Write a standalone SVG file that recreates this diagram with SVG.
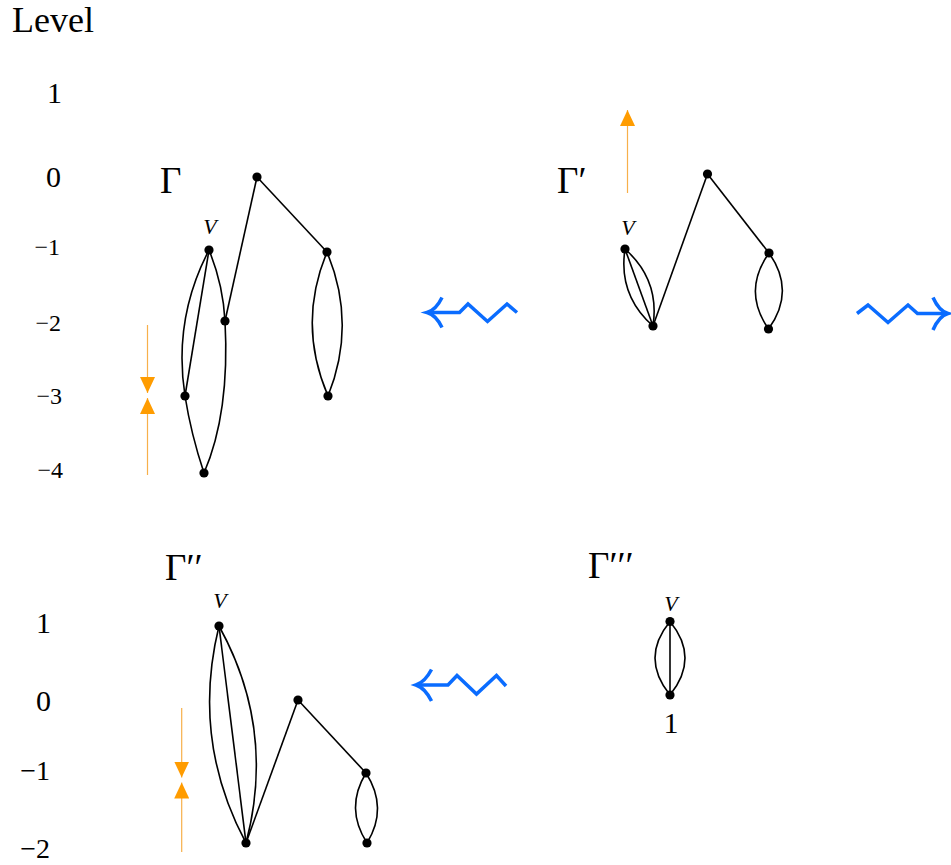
<svg xmlns="http://www.w3.org/2000/svg" width="951" height="865" viewBox="0 0 951 865">
<style>
text{font-family:"Liberation Serif","Times New Roman",serif;fill:#000}
.lvl{font-size:30px;text-anchor:end}
.lvs{font-size:24px;text-anchor:end}
.lvb{font-size:28px;text-anchor:end}
.gam{font-size:37px}
.vl{font-size:22px;font-style:italic;text-anchor:middle}
.e{fill:none;stroke:#000;stroke-width:1.6}
.dot{fill:#000}
.orl{stroke:#f7b04a;stroke-width:1.2;fill:none}
.blu{fill:none;stroke:#0a6cff;stroke-width:3.5;stroke-linejoin:miter;stroke-linecap:butt}
</style>
<defs>
<marker id="otri" markerUnits="userSpaceOnUse" markerWidth="16" markerHeight="15" viewBox="0 0 16 15" refX="16" refY="7.5" orient="auto">
<path d="M0,0 L16,7.5 L0,15 Z" fill="#ff9c00"/>
</marker>
<circle id="v" r="4.6" class="dot"/>
</defs>
<rect width="951" height="865" fill="#fff"/>

<g id="axis-top">
<text x="12" y="32" style="font-size:36px">Level</text>
<text class="lvl" x="62" y="103">1</text>
<text class="lvl" x="61" y="187">0</text>
<text class="lvs" x="60" y="255">−1</text>
<text class="lvs" x="61" y="331">−2</text>
<text class="lvs" x="62" y="404">−3</text>
<text class="lvs" x="63" y="478">−4</text>
</g>
<g id="axis-bottom">
<text class="lvl" x="51" y="633">1</text>
<text class="lvl" x="51" y="711">0</text>
<text class="lvb" x="50" y="780">−1</text>
<text class="lvb" x="50" y="858">−2</text>
</g>

<g id="labels">
<text class="gam" x="160" y="193">Γ</text>
<text class="gam" x="557" y="193">Γ′</text>
<text class="gam" x="165" y="580">Γ′′</text>
<text class="gam" x="588" y="578">Γ′′′</text>
<text x="671" y="733" style="font-size:30px;text-anchor:middle">1</text>
</g>

<g id="connectors">
<!-- Gamma -->
<path class="e" d="M257,177 L225,321"/>
<path class="e" d="M257,177 L327,252"/>
<path class="e" d="M209,250 Q223,284 225,321"/>
<path class="e" d="M225,321 Q230,413 204,473"/>
<path class="e" d="M209,250 L185,396"/>
<path class="e" d="M209,250 Q173,319 185,396"/>
<path class="e" d="M185,396 Q191,434 204,473"/>
<path class="e" d="M327,252 Q297,324 328,396"/>
<path class="e" d="M327,252 Q357,324 328,396"/>
<!-- Gamma' -->
<path class="e" d="M707.5,174 L653,326"/>
<path class="e" d="M707.5,174 L769,253"/>
<path class="e" d="M625,249 L653,326"/>
<path class="e" d="M625,249 Q618,295 653,326"/>
<path class="e" d="M625,249 Q660,280 653,326"/>
<path class="e" d="M769,253 Q742,291 768.5,329"/>
<path class="e" d="M769,253 Q796,291 768.5,329"/>
<!-- Gamma'' -->
<path class="e" d="M298,700 L246,843"/>
<path class="e" d="M298,700 L366,773"/>
<path class="e" d="M219,626 L246,843"/>
<path class="e" d="M219,626 Q191,740 246,843"/>
<path class="e" d="M219,626 Q276,729 246,843"/>
<path class="e" d="M366,773 Q344.5,808 367,843"/>
<path class="e" d="M366,773 Q388.5,808 367,843"/>
<!-- Gamma''' -->
<path class="e" d="M670,621.5 L670,695"/>
<path class="e" d="M670,621.5 Q640,658 670,695"/>
<path class="e" d="M670,621.5 Q700,658 670,695"/>
<!-- orange level arrows -->
<path class="orl" d="M147.5,325 L147.5,393" marker-end="url(#otri)"/>
<path class="orl" d="M147.5,475 L147.5,398" marker-end="url(#otri)"/>
<path class="orl" d="M627.5,193 L627.5,110" marker-end="url(#otri)"/>
<path class="orl" d="M181.7,708 L181.7,777.5" marker-end="url(#otri)"/>
<path class="orl" d="M181.7,852 L181.7,782.5" marker-end="url(#otri)"/>
<!-- blue squiggle arrows -->
<path class="blu" d="M517,312.5 L507,304 L487.5,321.5 L468,304 L459.5,312.5 L428,312.5"/>
<path class="blu" d="M442,297.5 Q436,310 427,312.5 Q436,315 442,327.5"/>
<path class="blu" d="M857,313.5 L868,305 L888,322.5 L908,305 L917.5,313.5 L947,313.5"/>
<path class="blu" d="M933,297.5 Q939,311 948,313.5 Q939,316 933,330"/>
<path class="blu" d="M506,686 L496.5,675.5 L476.5,694 L457,675.5 L448,685 L417,685"/>
<path class="blu" d="M431.5,669.5 Q425,682 416,685 Q425,688 431.5,701"/>
</g>

<g id="G-top"><use href="#v" x="257" y="177"/></g>
<g id="G-V"><use href="#v" x="209" y="250"/><text class="vl" x="210" y="234">V</text></g>
<g id="G-R1"><use href="#v" x="327" y="252"/></g>
<g id="G-N2"><use href="#v" x="225" y="321"/></g>
<g id="G-L3"><use href="#v" x="185" y="396"/></g>
<g id="G-R3"><use href="#v" x="328" y="396"/></g>
<g id="G-B4"><use href="#v" x="204" y="473"/></g>

<g id="G1-top"><use href="#v" x="707.5" y="174"/></g>
<g id="G1-V"><use href="#v" x="625" y="249"/><text class="vl" x="628" y="235">V</text></g>
<g id="G1-B"><use href="#v" x="653" y="326"/></g>
<g id="G1-R"><use href="#v" x="769" y="253"/></g>
<g id="G1-RB"><use href="#v" x="768.5" y="329"/></g>

<g id="G2-V"><use href="#v" x="219" y="626"/><text class="vl" x="220" y="608">V</text></g>
<g id="G2-B"><use href="#v" x="246" y="843"/></g>
<g id="G2-top"><use href="#v" x="298" y="700"/></g>
<g id="G2-R"><use href="#v" x="366" y="773"/></g>
<g id="G2-RB"><use href="#v" x="367" y="843"/></g>

<g id="G3-V"><use href="#v" x="670" y="621.5"/><text class="vl" x="671" y="611">V</text></g>
<g id="G3-B"><use href="#v" x="670" y="695"/></g>
</svg>
